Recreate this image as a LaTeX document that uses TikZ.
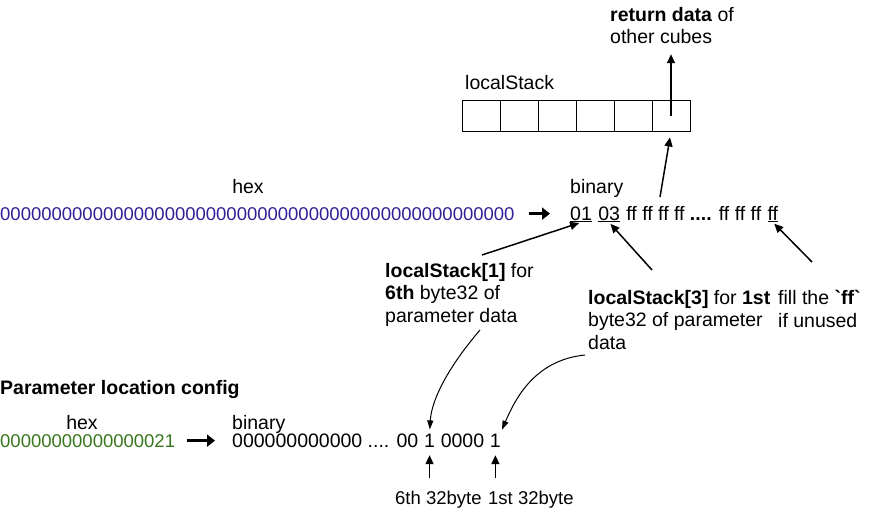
\documentclass[tikz,border=0pt]{standalone}
\usepackage{fontspec}
\setmainfont{Liberation Sans}[Ligatures={TeX,NoCommon}]
\usetikzlibrary{positioning}
\usetikzlibrary{arrows.meta}
\definecolor{hexblue}{RGB}{49,31,150}
\definecolor{hexgreen}{RGB}{56,118,29}
\tikzset{
    txt/.style = {inner sep=0pt, align=left, font=\fontsize{19.5}{22.5}\selectfont},
    txts/.style = {inner sep=0pt, align=left, font=\fontsize{18.5}{22.5}\selectfont},
    hexnum/.style = {inner sep=0pt, font=\fontsize{18.5}{22.5}\selectfont},
    cell/.style = {rectangle, draw=black, line width=1pt, minimum width=38pt, minimum height=31pt, inner sep=0pt},
    edgeb/.style = {line width=1.5pt, -{Triangle[length=9pt,width=8pt]}}, % straight pointer
    edgec/.style = {line width=1pt, -{Triangle[length=9pt,width=6pt]}}, % curved pointer
    edgeh/.style = {line width=3pt, -{Triangle[length=8pt,width=12pt]}}, % hex to binary
}
\begin{document}
\begin{tikzpicture}[x=1pt,y=-1pt]
\path[use as bounding box] (0,0) rectangle (892,519);
% localStack
\foreach \i in {1,...,6}
    \node[cell] (c\i) at (443+38*\i, 115.5) {};
\node[txt, anchor=base west] (stack) at (465,90) {localStack};
\node[txt, anchor=north west] (ret) at (610,7) {\textbf{return data} of\\other cubes};
%
\node[txt, anchor=base] (hexa) at (248,193) {hex};
\node[txt, anchor=base west] (bina) at (570,193) {binary};
\node[hexnum, anchor=base west, text=hexblue] (hexstr) at (0,220) {00000000000000000000000000000000000000000000000000};
\node[txt, anchor=base west] (b01) at (570,220) {\underline{01}};
\node[txt, base right=6pt of b01] (b03) {\underline{03}};
\node[txt, base right=6pt of b03] (brest) {ff ff ff ff \textbf{....} ff ff ff};
\node[txt, base right=6pt of brest] (bff) {\underline{ff}};
%
\node[txt, anchor=north west] (lbl6) at (385,263) {\textbf{localStack[1]} for\\\textbf{6th} byte32 of\\parameter data};
\node[txt, anchor=north west] (lbl3) at (588,290) {\textbf{localStack[3]} for \textbf{1st}\\byte32 of parameter\\data};
\node[txt, anchor=north west] (lblf) at (778,290) {fill the \textbf{\textasciigrave ff\textasciigrave}\\if unused};
%
\node[txt, anchor=base west] (cfg) at (0,394) {\textbf{Parameter location config}};
\node[txt, anchor=base] (hexb) at (82,429) {hex};
\node[txt, anchor=base west] (binb) at (232,429) {binary};
\node[hexnum, anchor=base west, text=hexgreen] (greenstr) at (0,447) {00000000000000021};
\node[txt, anchor=base west] (bits) at (232,447) {000000000000 .... 00};
\node[txt, base right=5.4pt of bits] (p6) {1};
\node[txt, base right=5.4pt of p6] (pz) {0000};
\node[txt, base right=5.4pt of pz] (p1) {1};
\node[txts, anchor=base west] (l6) at (395,504) {6th 32byte};
\node[txts, anchor=base west] (l1) at (488,504) {1st 32byte};
%
\coordinate (tb) at (660,197);
\coordinate (t6) at (482,255);
\coordinate (t3) at (652,270);
\coordinate (tf) at (812,262);
\coordinate (s6) at (480,330);
\coordinate (s3) at (585,355);
%
\draw[edgeh, shorten <=14pt, shorten >=20pt] (hexstr.east) -- (hexstr.east -| b01.west);
\draw[edgeh, shorten <=12pt, shorten >=17pt] (greenstr.east) -- (greenstr.east -| bits.west);
\draw[edgeb, shorten >=10pt] (c6.center) -- (c6.center |- ret.south);
\draw[edgeb, shorten >=6pt] (tb) -- (c6.south);
\draw[edgeb, shorten >=2pt] (t6) -- (b01.south);
\draw[edgeb, shorten >=2pt] (t3) -- (b03.south);
\draw[edgeb, shorten >=2pt] (tf) -- (bff.south);
\draw[edgec, shorten >=4pt] (s6) .. controls +(-30,35) and +(2,-35) .. (p6.north);
\draw[edgec, shorten >=4pt] (s3) .. controls +(-50,5) and +(15,-35) .. ([xshift=5pt]p1.north);
\draw[edgeb, shorten <=12pt, shorten >=8pt] (l6.north -| p6.south) -- (p6.south);
\draw[edgeb, shorten <=12pt, shorten >=8pt] (l1.north -| p1.south) -- (p1.south);
\end{tikzpicture}
\end{document}
